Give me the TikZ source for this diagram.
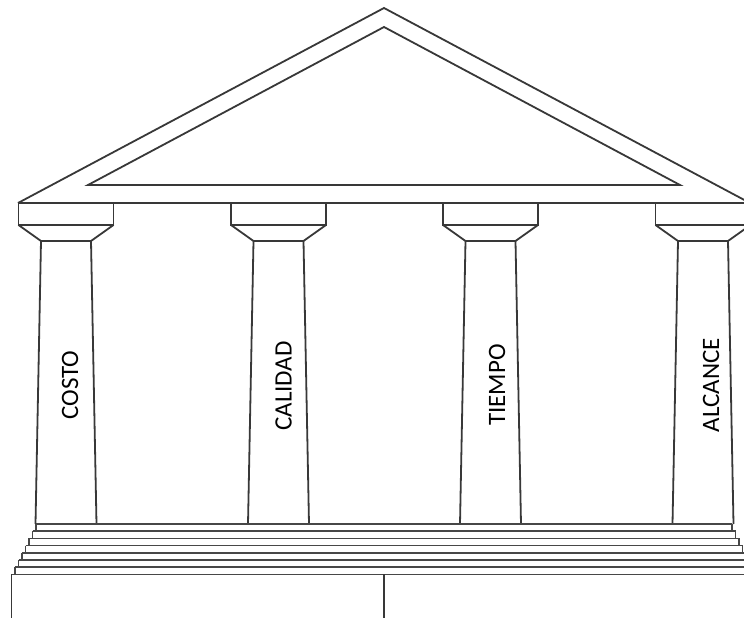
\documentclass[tikz,border=0pt]{standalone}
\usepackage{fontspec}
\newfontfamily\labelfont{Carlito}
\begin{document}
\begin{tikzpicture}[x=1pt,y=-1pt,
  edge/.style={draw=black!78, line width=1.8pt, line join=miter},
  steplines/.style={draw=black!72, line width=1.7pt},
  colname/.style={rotate=90, inner sep=0pt, font=\labelfont\fontsize{25}{25}\selectfont, text=black}]
\useasboundingbox (0,0) rectangle (744,618);
\clip (0,0) rectangle (744,618);

% pediment: outer roof line and inner tympanum
\coordinate (apex) at (384,8);
\coordinate (eaveL) at (18,203);
\coordinate (eaveR) at (750,203);
\draw[edge] (eaveL) -- (apex) -- (eaveR);
\coordinate (tymA) at (384,27);
\coordinate (tymL) at (88,185);
\coordinate (tymR) at (680,185);
\draw[edge] (tymL) -- (tymA) -- (tymR) -- cycle;

% entablature line
\draw[edge] (eaveL) -- (eaveR);

% columns: abacus, echinus and tapering shaft
\foreach \c in {66,278.5,490.5,703}{
  \draw[edge] (\c-47.5,203) -- (\c-47.5,225) -- (\c+47.5,225) -- (\c+47.5,203);
  \draw[edge] (\c-47.5,225) -- (\c-25,241) -- (\c+25,241) -- (\c+47.5,225);
  \draw[edge] (\c-25,241) -- (\c-30.5,524);
  \draw[edge] (\c+25,241) -- (\c+30.5,524);
}

% stepped platform
\foreach \i in {0,...,6}{
  \pgfmathsetmacro{\yt}{524+7.2*\i}
  \pgfmathsetmacro{\yb}{524+7.2*(\i+1)}
  \pgfmathsetmacro{\xl}{36-3.5*\i}
  \pgfmathsetmacro{\xr}{732+3.5*\i}
  \draw[steplines] (\xl,\yt) -- (\xr,\yt);
  \draw[steplines] (\xl,\yt) -- (\xl,\yb);
  \draw[steplines] (\xr,\yt) -- (\xr,\yb);
}
% base block split in two
\coordinate (baseTL) at (11.5,574.4);
\coordinate (baseTR) at (756.5,574.4);
\coordinate (baseMid) at (384,574.4);
\draw[steplines] (baseTL) -- (baseTR);
\draw[edge] (baseTL) -- (11.5,625);
\draw[edge] (baseMid) -- (384,625);

% column labels
\node[colname] (costo) at (70,385) {COSTO};
\node[colname] (calidad) at (283.5,386) {CALIDAD};
\node[colname] (tiempo) at (497,385) {TIEMPO};
\node[colname] (alcance) at (711,385) {ALCANCE};
\end{tikzpicture}
\end{document}
